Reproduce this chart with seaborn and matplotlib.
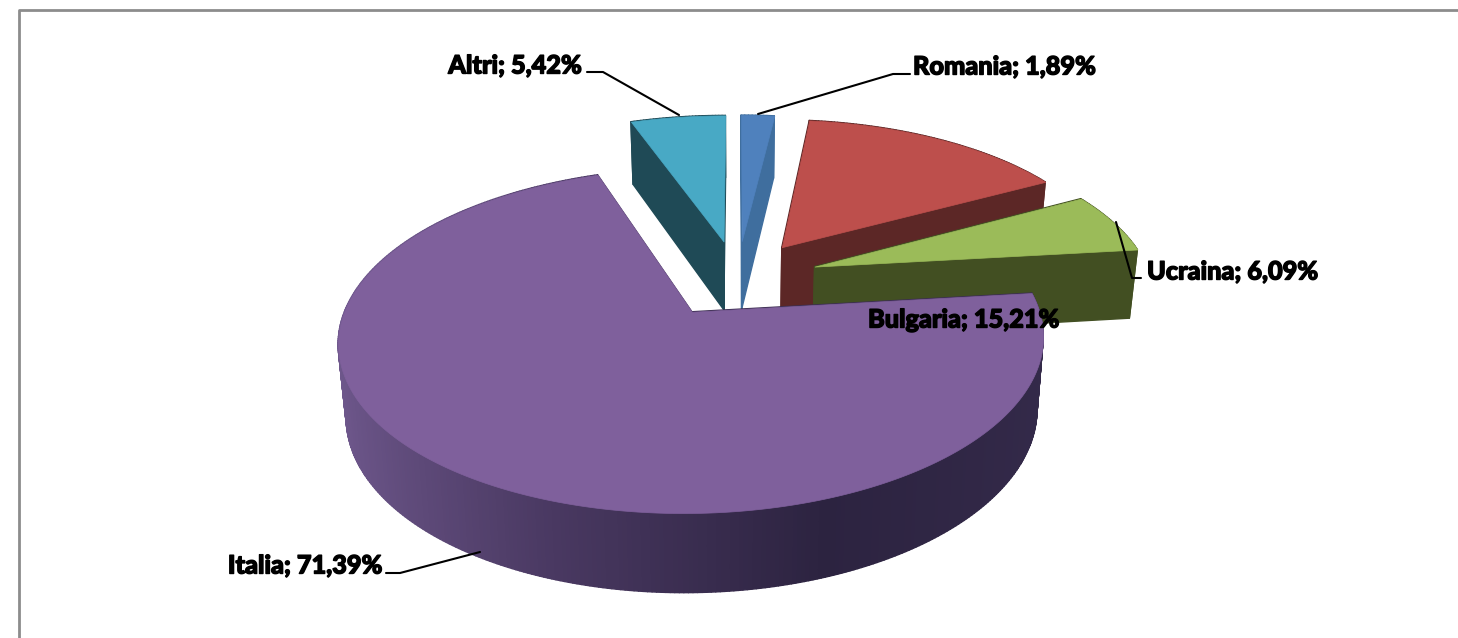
import numpy as np
import matplotlib
matplotlib.use("Agg")
import matplotlib.pyplot as plt
import matplotlib.patheffects as pe
from matplotlib.collections import PolyCollection
import seaborn as sns

# ---- data
countries = ["Romania", "Bulgaria", "Ucraina", "Italia", "Altri"]
shares = [1.89, 15.21, 6.09, 71.39, 5.42]

# ---- styles
top_colors = ["#4f81bd", "#bd4f4c", "#9bbb59", "#7f609c", "#48a9c5"]
cut_colors = ["#3f6e9e", "#5c2726", "#424f22", "#3d2f52", "#1f4a56"]
rim_ramps = [["#3f6e9e", "#3f6e9e"], ["#5c2726", "#5c2726"], ["#424f22", "#4a5a26"],
             ["#70598e", "#4a3962", "#2c2340", "#342a4a"], ["#1f4a56", "#1f4a56"]]
draw_order = ["Altri", "Romania", "Bulgaria", "Ucraina", "Italia"]
label_pos = {"Romania": (913, 67, "left"), "Altri": (582, 66, "right"),
             "Ucraina": (1147, 272, "left"), "Bulgaria": (868, 320, "left"),
             "Italia": (382, 566, "right")}
leaders = {"Altri": ([587, 603, 679], [72, 72, 115]),
           "Romania": ([758, 893, 910], [114, 74, 74]),
           "Ucraina": ([1116, 1132, 1141], [222, 278, 278]),
           "Italia": ([386, 400, 480], [573, 573, 552])}

# ---- perspective model of the exploded pie
X0, Y0, A, B, K, H, KH, SHRINK, EXPLODE = 737, 278, 336, 157, 0.16, 70, 0.10, 0.98, 0.245


def project(u, v, bottom=False):
    w = 1 - K * v
    x = A * u / w
    y = Y0 + B * v / w
    if bottom:
        return X0 + x * SHRINK, y + H / (1 - KH * v)
    return X0 + x, y


sns.set_theme(style="white")
fig, ax = plt.subplots(figsize=(14.58, 6.38), dpi=100)
fig.subplots_adjust(0, 0, 1, 1)
ax.set_xlim(0, 1458)
ax.set_ylim(638, 0)
ax.axis("off")

edges = np.cumsum([0] + shares) / sum(shares) * 2 * np.pi
for name in draw_order:
    i = countries.index(name)
    t0, t1 = edges[i], edges[i + 1]
    mid = (t0 + t1) / 2
    cu, cv = EXPLODE * np.sin(mid), -EXPLODE * np.cos(mid)
    th = np.linspace(t0, t1, max(int((t1 - t0) * 90), 3))
    ru, rv = cu + np.sin(th), cv - np.cos(th)

    faces, colors, keys = [], [], []
    # the two straight cut faces
    for t in (t0, t1):
        eu, ev = cu + np.sin(t), cv - np.cos(t)
        quad = [project(cu, cv), project(eu, ev), project(eu, ev, True), project(cu, cv, True)]
        faces.append(quad)
        colors.append(cut_colors[i])
        keys.append((cv + ev) / 2)
    # the curved rim, shaded from left (light) to right (dark)
    ramp = sns.blend_palette(rim_ramps[i], 256)
    for j in range(len(th) - 1):
        quad = [project(ru[j], rv[j]), project(ru[j + 1], rv[j + 1]),
                project(ru[j + 1], rv[j + 1], True), project(ru[j], rv[j], True)]
        faces.append(quad)
        s = (np.sin((th[j] + th[j + 1]) / 2) + 1) / 2 if name == "Italia" else 0.5
        colors.append(ramp[int(s * 255)])
        keys.append((rv[j] + rv[j + 1]) / 2)
    order = np.argsort(keys)
    ax.add_collection(PolyCollection([faces[k] for k in order],
                                     facecolors=[colors[k] for k in order],
                                     edgecolors=[colors[k] for k in order], linewidths=1.0))
    # the top surface
    top = [project(cu, cv)] + [project(a, b) for a, b in zip(ru, rv)]
    ax.add_collection(PolyCollection([top], facecolors=[top_colors[i]],
                                     edgecolors=[top_colors[i]], linewidths=0.5))

# ---- leader lines and labels
for name, (lx, ly) in leaders.items():
    ax.plot(lx, ly, color="black", lw=1.5, solid_joinstyle="round")
for name, value in zip(countries, shares):
    x, y, ha = label_pos[name]
    ax.text(x, y, f"{name}; {value:.2f}%".replace(".", ","), ha=ha, va="center",
            family="Lato", weight=900, fontsize=18.2, color="black",
            path_effects=[pe.withStroke(linewidth=1.0, foreground="black")])

# ---- chart frame (top and left edges visible)
ax.plot([19, 19, 1458], [638, 10, 10], color="#8c8c8c", lw=2)

fig.savefig("out.png", dpi=100)
